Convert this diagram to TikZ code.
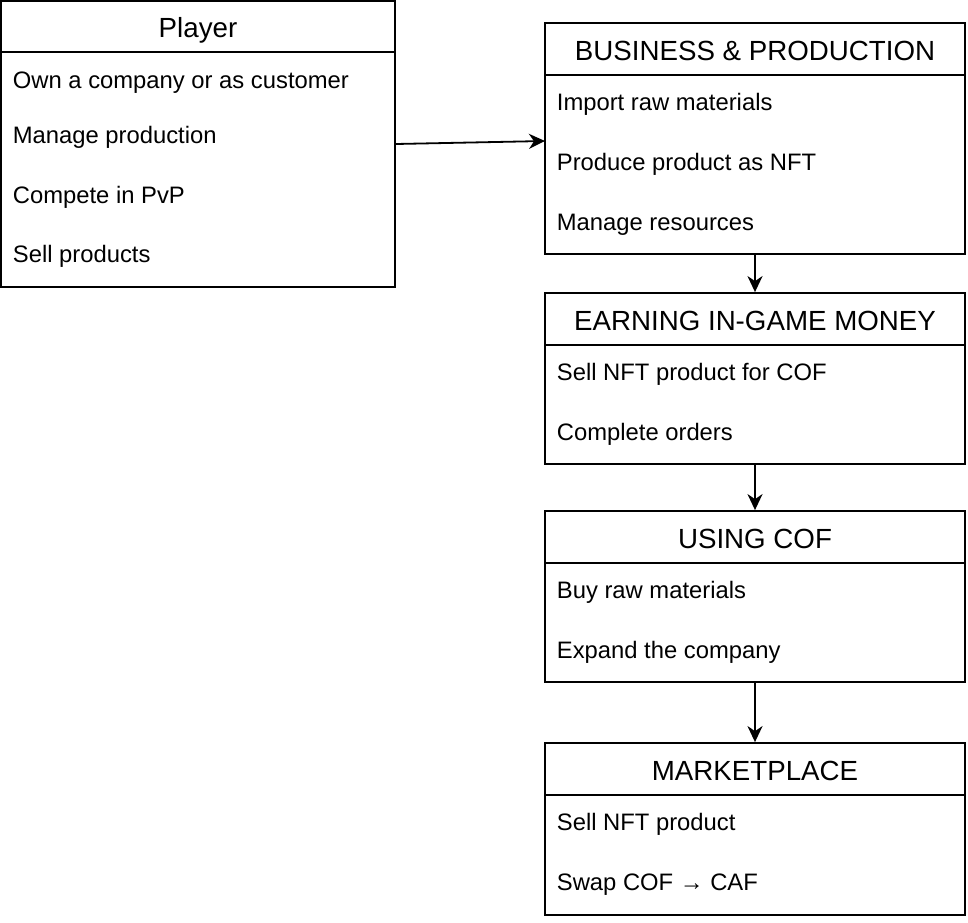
\documentclass[tikz,border=0pt]{standalone}
\usepackage{fontspec}
\setmainfont{Liberation Sans}
\usetikzlibrary{arrows.meta,positioning}

\begin{document}
\begin{tikzpicture}[x=1pt, y=-1pt, line width=1.8pt,
      box/.style={draw, rectangle, inner sep=0pt},
      head/.style={anchor=base, inner sep=0pt, font=\fontsize{27.7}{33}\selectfont},
      item/.style={anchor=base west, inner sep=0pt, font=\fontsize{23.8}{28}\selectfont},
      flow/.style={-{Stealth[length=16pt, width=15pt, inset=5pt]}}]
    \useasboundingbox (0,0) rectangle (968,922);

    % player
    \node[box, minimum width=394pt, minimum height=286pt] (player) at (198,144) {};
    \node[head] (playerhead) at (198,37) {Player};
    \draw (player.west |- 0,52) -- (player.east |- 0,52);
    \node[item] (own) at (12,88) {Own a company or as customer};
    \node[item] (manage) at (12,143) {Manage production};
    \node[item] (pvp) at (12,203) {Compete in PvP};
    \node[item] (sell) at (12,262) {Sell products};

    % business and production
    \node[box, minimum width=420pt, minimum height=231pt] (biz) at (755,138.5) {};
    \node[head] (bizhead) at (755,60) {BUSINESS \& PRODUCTION};
    \draw (biz.west |- 0,75) -- (biz.east |- 0,75);
    \node[item] (import) at (556,110) {Import raw materials};
    \node[item] (produce) at (556,170) {Produce product as NFT};
    \node[item] (resources) at (556,230) {Manage resources};

    % earning
    \node[box, minimum width=420pt, minimum height=171pt] (earn) at (755,378.5) {};
    \node[head] (earnhead) at (755,330) {EARNING IN-GAME MONEY};
    \draw (earn.west |- 0,345) -- (earn.east |- 0,345);
    \node[item] (sellnft) at (556,380) {Sell NFT product for COF};
    \node[item] (orders) at (556,440) {Complete orders};

    % using cof
    \node[box, minimum width=420pt, minimum height=171pt] (cof) at (755,596.5) {};
    \node[head] (cofhead) at (755,548) {USING COF};
    \draw (cof.west |- 0,563) -- (cof.east |- 0,563);
    \node[item] (buy) at (556,598) {Buy raw materials};
    \node[item] (expand) at (556,658) {Expand the company};

    % marketplace
    \node[box, minimum width=420pt, minimum height=172pt] (market) at (755,829) {};
    \node[head] (markethead) at (755,780) {MARKETPLACE};
    \draw (market.west |- 0,795) -- (market.east |- 0,795);
    \node[item] (sellmarket) at (556,830) {Sell NFT product};
    \node[item] (swap) at (556,890) {Swap COF → CAF};

    % arrows
    \coordinate (bizin) at (545,141);
    \draw[flow] (player.east) -- (bizin);
    \draw[flow] (biz) -- (earn);
    \draw[flow] (earn) -- (cof);
    \draw[flow] (cof) -- (market);
  \end{tikzpicture}
\end{document}
